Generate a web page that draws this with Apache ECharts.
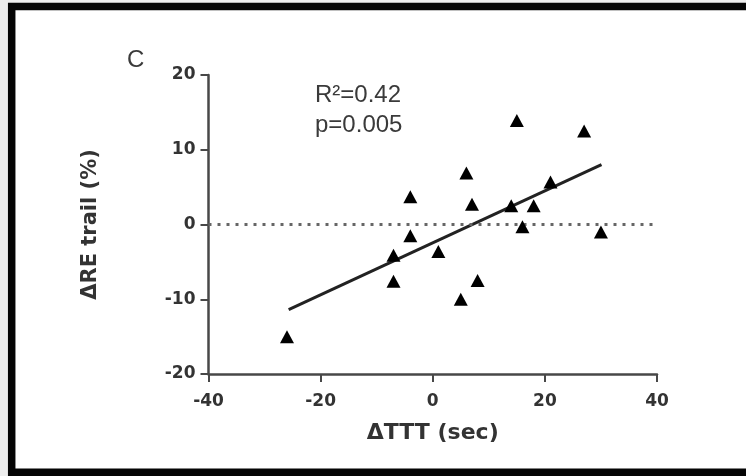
<!DOCTYPE html>
<html>
<head>
<meta charset="utf-8">
<script src="https://cdn.jsdelivr.net/npm/echarts@6/dist/echarts.min.js"></script>
<style>
html,body{margin:0;padding:0;background:#ededed;}
#chart{width:746px;height:476px;}
</style>
</head>
<body>
<div id="chart"></div>
<script>
// ΔTTT (sec) values
const deltaTTT = [-26, -7, -7, -4, -4, 1, 5, 6, 7, 8, 14, 15, 16, 18, 21, 27, 30];
// ΔRE trail (%) values
const deltaRE = [-15, -4.1, -7.6, -1.5, 3.7, -3.6, -10, 6.9, 2.7, -7.5, 2.5, 13.9, -0.3, 2.5, 5.7, 12.5, -1];
// regression line endpoints
const fitX = [-25.7, 30.1];
const fitY = [-11.4, 8.0];
const xTicks = [-40, -20, 0, 20, 40];
const yTicks = [-20, -10, 0, 10, 20];
const panelLabel = 'C';
const statsText = ['R²=0.42', 'p=0.005'];

const points = deltaTTT.map((x, i) => [x, deltaRE[i]]);
const fitLine = fitX.map((x, i) => [x, fitY[i]]);

const chart = echarts.init(document.getElementById('chart'), null, {renderer: 'canvas'});
const axisColor = '#484848';
const font = '"Liberation Sans", Arial, sans-serif';
const boldFont = '"DejaVu Sans", sans-serif';

chart.setOption({
  backgroundColor: 'transparent',
  animation: false,
  graphic: [
    {type: 'rect', z: -10, silent: true,
     shape: {x: 11.7, y: 6.5, width: 800, height: 465.8},
     style: {fill: '#ffffff', stroke: '#050505', lineWidth: 7.5}},
    {type: 'text', left: 127, top: 48,
     style: {text: panelLabel, font: '24px ' + font, fill: '#3a3a3a'}},
    {type: 'text', left: 315, top: 83,
     style: {text: statsText[0], font: '24px ' + font, fill: '#3a3a3a'}},
    {type: 'text', left: 315, top: 113,
     style: {text: statsText[1], font: '24px ' + font, fill: '#3a3a3a'}}
  ],
  grid: {left: 208.5, right: 89, top: 75, bottom: 102, containLabel: false},
  xAxis: {
    type: 'value', min: xTicks[0], max: xTicks[xTicks.length - 1], interval: 20,
    name: 'ΔTTT (sec)', nameLocation: 'middle', nameGap: 48,
    nameTextStyle: {fontFamily: boldFont, fontWeight: 'bold', fontSize: 22, color: '#333'},
    axisLine: {show: true, onZero: false, lineStyle: {color: axisColor, width: 2.5}},
    axisTick: {show: true, length: 8, lineStyle: {color: axisColor, width: 2}},
    axisLabel: {fontFamily: boldFont, fontWeight: 'bold', fontSize: 17, color: '#333', margin: 19},
    splitLine: {show: false}
  },
  yAxis: {
    type: 'value', min: yTicks[0], max: yTicks[yTicks.length - 1], interval: 10,
    name: 'ΔRE trail (%)', nameLocation: 'middle', nameGap: 107,
    nameTextStyle: {fontFamily: boldFont, fontWeight: 'bold', fontSize: 21, color: '#333'},
    axisLine: {show: true, onZero: false, lineStyle: {color: axisColor, width: 2.5}},
    axisTick: {show: true, length: 8, lineStyle: {color: axisColor, width: 2}},
    axisLabel: {fontFamily: boldFont, fontWeight: 'bold', fontSize: 17, color: '#333', margin: 13},
    splitLine: {show: false}
  },
  series: [
    {
      type: 'scatter', data: points, symbol: 'triangle', symbolSize: [14, 13],
      itemStyle: {color: '#000000', opacity: 1}, z: 5,
      markLine: {
        silent: true, symbol: ['none', 'none'], label: {show: false},
        lineStyle: {color: '#666', type: [3, 6], width: 3},
        data: [{yAxis: 0}]
      }
    },
    {
      type: 'line', data: fitLine, showSymbol: false, symbol: 'none',
      lineStyle: {color: '#222', width: 3}, z: 4
    }
  ]
});
</script>
</body>
</html>
